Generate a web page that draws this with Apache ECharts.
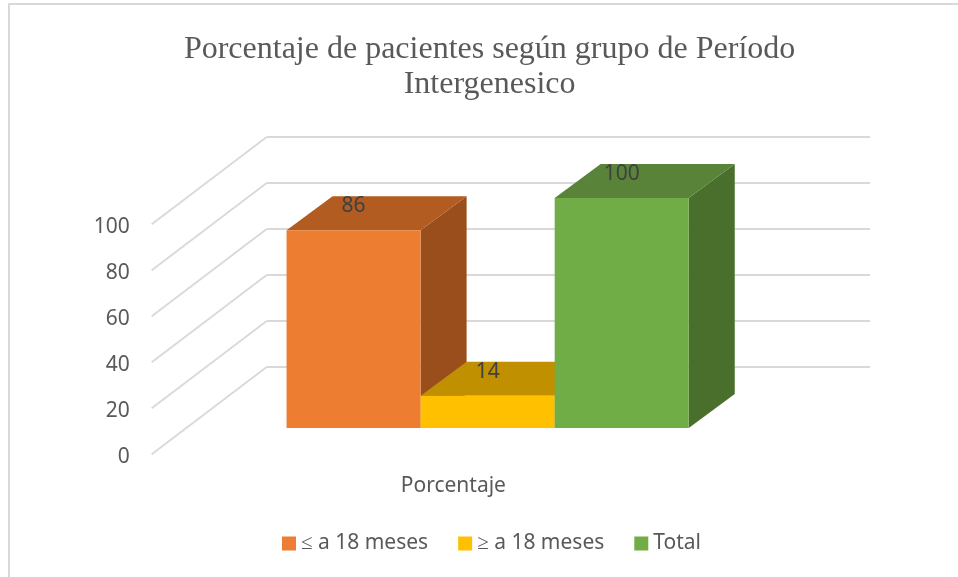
<!DOCTYPE html>
<html>
<head>
<meta charset="utf-8">
<script src="https://cdn.jsdelivr.net/npm/echarts@6/dist/echarts.min.js"></script>
<style>
html, body { margin: 0; padding: 0; background: #fff; }
#chart { width: 958px; height: 577px; }
</style>
</head>
<body>
<div id="chart"></div>
<script>
var categories = ['Porcentaje'];
var seriesNames = ['≤ a 18 meses', '≥ a 18 meses', 'Total'];
var seriesValues = [86, 14, 100];
var yTicks = [0, 20, 40, 60, 80, 100];

var frontColors = ['#ed7d31', '#ffc000', '#70ad47'];
var topColors = ['#b35c22', '#c09000', '#588338'];
var sideColors = ['#9a4e1c', '#a67c00', '#4a6f2c'];

var titleText = 'Porcentaje de pacientes según grupo de Período\nIntergenesico';
var textColor = '#595959';
var labelFont = 'Noto Sans';

// profundidad del "3D": desplazamiento de la pared del fondo y de las barras
var wallDx = 115, wallDy = -87.3;
var barDx = 46, barDy = -34;
var barShare = 2 / 9;

var myChart = echarts.init(document.getElementById('chart'));

function renderWallLine(params, api) {
    var p = api.coord([0, api.value(1)]);
    var left = p[0] - api.size([1, 0])[0] / 2;
    return {
        type: 'line',
        shape: { x1: left, y1: p[1], x2: left + wallDx, y2: p[1] + wallDy },
        style: { stroke: '#d9d9d9', lineWidth: 1.8 },
        silent: true
    };
}

function renderBar(params, api) {
    var i = params.seriesIndex - 1;
    var bw = api.size([1, 0])[0] * barShare;
    var c = api.coord([0, api.value(1)]);
    var b = api.coord([0, 0]);
    var x0 = c[0] + (i - seriesValues.length / 2) * bw;
    var x1 = x0 + bw;
    var top = c[1], bottom = b[1];
    return {
        type: 'group',
        children: [
            {
                type: 'polygon',
                shape: { points: [[x1, top], [x1 + barDx, top + barDy], [x1 + barDx, bottom + barDy], [x1, bottom]] },
                style: { fill: sideColors[i] }
            },
            {
                type: 'polygon',
                shape: { points: [[x0, top], [x0 + barDx, top + barDy], [x1 + barDx, top + barDy], [x1, top]] },
                style: { fill: topColors[i] }
            },
            {
                type: 'rect',
                shape: { x: x0, y: top, width: bw, height: bottom - top },
                style: { fill: frontColors[i] }
            },
            {
                type: 'text',
                z2: 10,
                style: {
                    text: String(api.value(1)),
                    x: x0 + bw / 2,
                    y: top - 24,
                    align: 'center',
                    verticalAlign: 'middle',
                    fill: '#404040',
                    font: '21px ' + labelFont
                }
            }
        ]
    };
}

var series = [{
    name: 'paredes',
    type: 'custom',
    xAxisIndex: 1,
    yAxisIndex: 1,
    renderItem: renderWallLine,
    data: yTicks.map(function (t) { return [0, t]; }),
    silent: true,
    z: 1
}];

seriesNames.forEach(function (name, i) {
    series.push({
        name: name,
        type: 'custom',
        xAxisIndex: 2,
        yAxisIndex: 2,
        renderItem: renderBar,
        data: [[0, seriesValues[i]]],
        itemStyle: { color: frontColors[i] },
        z: 2 + i
    });
});

var option = {
    animation: false,
    backgroundColor: '#fff',
    title: {
        text: titleText,
        left: 489.6,
        top: 32,
        padding: 0,
        textAlign: 'center',
        textStyle: {
            fontFamily: 'Liberation Serif',
            fontWeight: 'normal',
            fontSize: 32,
            lineHeight: 35,
            color: textColor
        }
    },
    legend: {
        left: 282,
        top: 533,
        padding: 0,
        itemWidth: 14,
        itemHeight: 14,
        itemGap: 30,
        itemStyle: { borderWidth: 0 },
        icon: 'rect',
        selectedMode: false,
        data: seriesNames,
        textStyle: { fontFamily: labelFont, fontSize: 21, color: textColor }
    },
    grid: [
        // pared del fondo
        { left: 266.7, top: 137, width: 603.3, height: 230 },
        // plano frontal: etiquetas de los ejes
        { left: 151.7, top: 224.3, width: 603.3, height: 230 },
        // plano de las barras
        { left: 186, top: 198, width: 603.3, height: 230 }
    ],
    xAxis: [
        { gridIndex: 0, type: 'category', data: categories, show: false },
        {
            gridIndex: 1, type: 'category', data: categories,
            axisLine: { show: false }, axisTick: { show: false },
            axisLabel: { margin: 21, fontFamily: labelFont, fontSize: 21, color: textColor }
        },
        { gridIndex: 2, type: 'category', data: categories, show: false }
    ],
    yAxis: [
        {
            gridIndex: 0, type: 'value', min: 0, max: 100, interval: 20,
            axisLine: { show: false }, axisTick: { show: false }, axisLabel: { show: false },
            splitLine: { lineStyle: { color: '#d9d9d9', width: 2 } }
        },
        {
            gridIndex: 1, type: 'value', min: 0, max: 100, interval: 20,
            axisLine: { show: false }, axisTick: { show: false }, splitLine: { show: false },
            axisLabel: { margin: 22, verticalAlign: 'top', lineHeight: 6, fontFamily: labelFont, fontSize: 21, color: textColor }
        },
        { gridIndex: 2, type: 'value', min: 0, max: 100, show: false, splitLine: { show: false } }
    ],
    series: series,
    graphic: [
        {
            type: 'line',
            silent: true,
            shape: { x1: 9, y1: 4, x2: 958, y2: 4 },
            style: { stroke: '#d9d9d9', lineWidth: 2 }
        },
        {
            type: 'line',
            silent: true,
            shape: { x1: 9, y1: 3, x2: 9, y2: 577 },
            style: { stroke: '#d9d9d9', lineWidth: 2 }
        }
    ]
};

myChart.setOption(option);
</script>
</body>
</html>
